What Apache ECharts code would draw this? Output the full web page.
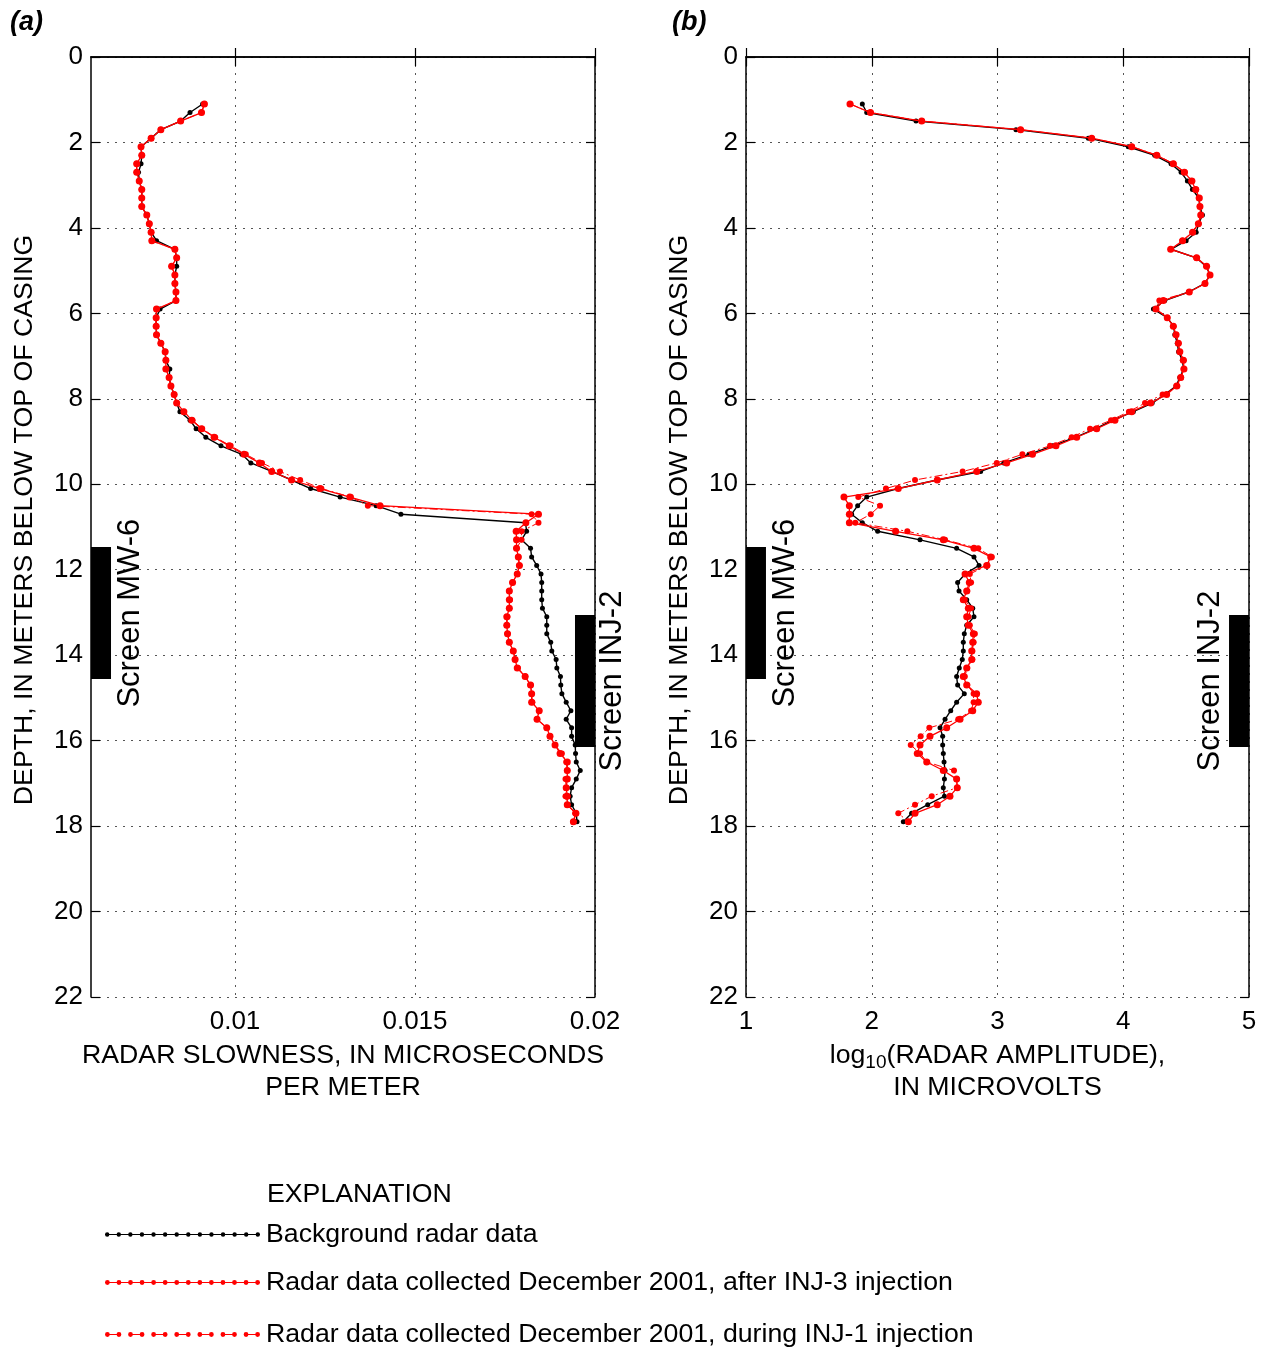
<!DOCTYPE html>
<html><head><meta charset="utf-8">
<script src="https://cdn.jsdelivr.net/npm/echarts@6/dist/echarts.min.js"></script>
<style>html,body{margin:0;padding:0;background:#fff}#c{width:1268px;height:1348px}</style>
</head><body><div id="c"></div>
<script>
// Depth of each measurement, meters below top of casing
const depth = [
 1.1,1.3,1.5,1.7,1.9,2.1,2.3,2.5,2.7,2.9,
 3.1,3.3,3.5,3.7,3.9,4.1,4.3,4.5,4.7,4.9,
 5.1,5.3,5.5,5.7,5.9,6.1,6.3,6.5,6.7,6.9,
 7.1,7.3,7.5,7.7,7.9,8.1,8.3,8.5,8.7,8.9,
 9.1,9.3,9.5,9.7,9.9,10.1,10.3,10.5,10.7,10.9,
 11.1,11.3,11.5,11.7,11.9,12.1,12.3,12.5,12.7,12.9,
 13.1,13.3,13.5,13.7,13.9,14.1,14.3,14.5,14.7,14.9,
 15.1,15.3,15.5,15.7,15.9,16.1,16.3,16.5,16.7,16.9,
 17.1,17.3,17.5,17.7,17.9];

// (a) radar slowness, microseconds per meter
const slowBackground = [
 0.0091,0.00875,0.00849,0.00794,0.00767,0.00739,0.00741,0.00739,0.00732,0.00734,
 0.00741,0.00741,0.00741,0.00755,0.00762,0.00767,0.00782,0.00833,0.00838,0.00838,
 0.00833,0.00833,0.00836,0.00836,0.00792,0.00781,0.00781,0.00782,0.00794,0.00806,
 0.00808,0.00819,0.00817,0.00822,0.00831,0.00838,0.00847,0.00875,0.00892,0.00919,
 0.00961,0.01019,0.01044,0.01102,0.01157,0.0121,0.01292,0.01392,0.01461,0.01807,
 0.0181,0.01796,0.01821,0.01824,0.01838,0.0185,0.01852,0.01852,0.01852,0.01854,
 0.01866,0.01866,0.01866,0.01877,0.0188,0.01892,0.01894,0.01904,0.01905,0.01908,
 0.0192,0.01933,0.0192,0.01935,0.01935,0.01945,0.01946,0.01948,0.01959,0.01948,
 0.01935,0.01931,0.01935,0.01948,0.0195];
const slowAfterINJ3 = [
 0.00915,0.00907,0.00849,0.00794,0.00767,0.00739,0.00741,0.00727,0.00727,0.00734,
 0.00741,0.00741,0.00741,0.00755,0.00762,0.00767,0.00769,0.00833,0.00838,0.00824,
 0.00833,0.00833,0.00836,0.00836,0.00782,0.00781,0.00781,0.00782,0.00794,0.00806,
 0.00808,0.00808,0.00817,0.00822,0.00831,0.00838,0.00858,0.0088,0.00907,0.00942,
 0.00984,0.01025,0.01068,0.01102,0.01157,0.01236,0.01319,0.01403,0.01843,0.01808,
 0.01781,0.01782,0.01782,0.01787,0.0179,0.01784,0.01771,0.01762,0.01762,0.01762,
 0.01755,0.01755,0.01757,0.01762,0.01773,0.01778,0.01784,0.01806,0.01821,0.01824,
 0.01824,0.01845,0.01839,0.01866,0.01875,0.01889,0.01903,0.01923,0.01923,0.01923,
 0.0192,0.01923,0.01923,0.01947,0.0194];
const slowDuringINJ1 = [
 0.00915,0.00907,0.00849,0.00794,0.00767,0.00739,0.00741,0.00727,0.00727,0.00734,
 0.00741,0.00741,0.00741,0.00755,0.00762,0.00767,0.00769,0.00833,0.00838,0.00824,
 0.00833,0.00833,0.00836,0.00836,0.00782,0.00781,0.00781,0.00782,0.00794,0.00806,
 0.00808,0.00808,0.00817,0.00822,0.00831,0.00838,0.00858,0.00882,0.00909,0.00945,
 0.00988,0.0103,0.01075,0.01125,0.01181,0.0124,0.01322,0.01369,0.01824,0.01843,
 0.01796,0.01796,0.01782,0.01787,0.0179,0.01784,0.01771,0.01762,0.01764,0.01762,
 0.01757,0.01755,0.01757,0.01762,0.01773,0.01778,0.01786,0.01806,0.01821,0.01824,
 0.01826,0.01845,0.01839,0.01866,0.01875,0.01889,0.01908,0.0192,0.01923,0.01918,
 0.0192,0.01918,0.01923,0.01945,0.0194];

// (b) log10 radar amplitude, microvolts
const ampBackground = [
 1.925,1.96,2.352,3.147,3.722,4.04,4.25,4.38,4.46,4.51,
 4.55,4.6,4.61,4.63,4.6,4.58,4.5,4.38,4.58,4.66,
 4.69,4.65,4.52,4.33,4.24,4.35,4.4,4.41,4.43,4.44,
 4.47,4.48,4.45,4.42,4.33,4.23,4.08,3.92,3.78,3.62,
 3.44,3.25,3.05,2.866,2.52,2.21,1.96,1.888,1.84,1.925,
 2.047,2.384,2.675,2.813,2.853,2.742,2.683,2.694,2.755,2.803,
 2.813,2.755,2.736,2.728,2.728,2.72,2.696,2.675,2.683,2.736,
 2.675,2.628,2.583,2.543,2.564,2.564,2.569,2.575,2.583,2.578,
 2.569,2.578,2.445,2.317,2.251];
const ampAfterINJ3 = [
 1.827,1.99,2.397,3.184,3.749,4.067,4.266,4.398,4.486,4.544,
 4.576,4.605,4.61,4.616,4.597,4.552,4.472,4.377,4.584,4.663,
 4.69,4.65,4.525,4.319,4.26,4.35,4.398,4.42,4.438,4.45,
 4.478,4.483,4.457,4.425,4.345,4.218,4.067,3.934,3.789,3.63,
 3.465,3.278,3.073,2.835,2.521,2.211,1.779,1.822,1.822,1.822,
 2.19,2.569,2.813,2.946,2.914,2.742,2.776,2.755,2.728,2.768,
 2.755,2.768,2.808,2.803,2.795,2.795,2.755,2.728,2.755,2.834,
 2.847,2.803,2.702,2.596,2.463,2.384,2.362,2.437,2.569,2.675,
 2.68,2.622,2.521,2.344,2.291];
const ampDuringINJ1 = [
 1.83,1.99,2.4,3.18,3.75,4.07,4.27,4.4,4.49,4.55,
 4.58,4.6,4.61,4.62,4.6,4.55,4.47,4.38,4.58,4.66,
 4.69,4.65,4.525,4.287,4.26,4.35,4.4,4.42,4.44,4.45,
 4.48,4.48,4.46,4.43,4.313,4.173,4.045,3.903,3.736,3.59,
 3.418,3.198,2.994,2.723,2.344,2.113,1.893,2.066,1.992,1.87,
 2.283,2.583,2.847,2.955,2.92,2.78,2.79,2.76,2.74,2.79,
 2.77,2.78,2.82,2.81,2.8,2.8,2.76,2.74,2.76,2.81,
 2.81,2.79,2.688,2.458,2.389,2.31,2.384,2.44,2.654,2.675,
 2.68,2.477,2.344,2.211,2.291];

// Well screen intervals (depth top, depth bottom)
const screenMW6 = [11.47, 14.56];
const screenINJ2 = [13.06, 16.15];

const seriesNames = [
 'Background radar data',
 'Radar data collected December 2001, after INJ-3 injection',
 'Radar data collected December 2001, during INJ-1 injection'];
const slowTicks = [0.01, 0.015, 0.02];
const xTitleA = 'RADAR SLOWNESS, IN MICROSECONDS\nPER METER';
const yTitle = 'DEPTH, IN METERS BELOW TOP OF CASING';

const FONT = "'Liberation Sans', Arial, Helvetica, sans-serif";
const TITLE_SIZE = 26.7;
const pairs = vals => vals.map((v, i) => [v, depth[i]]);

const chart = echarts.init(document.getElementById('c'), null, {renderer: 'canvas'});

const axisLineStyle = {show: true, lineStyle: {color: '#000', width: 1.5}};
const tickStyle = {show: true, inside: true, length: 9, lineStyle: {color: '#000', width: 1.2}};
const splitStyle = {show: true, lineStyle: {color: '#555', width: 1, type: [2, 6]}};
const labelStyle = {color: '#000', fontSize: 26, fontFamily: FONT};

function yAxes(grid) {
  const base = {type: 'value', gridIndex: grid, min: 0, max: 22, interval: 2, inverse: true};
  return [
    Object.assign({}, base, {position: 'left', axisLine: axisLineStyle, axisTick: tickStyle,
      splitLine: splitStyle, axisLabel: Object.assign({margin: 8}, labelStyle),
      name: yTitle, nameLocation: 'middle', nameGap: 53, nameRotate: 90,
      nameTextStyle: {color: '#000', fontSize: TITLE_SIZE, fontFamily: FONT, padding: [0, 0, 0, 14]}}),
    Object.assign({}, base, {position: 'right', axisLine: axisLineStyle, axisTick: tickStyle,
      splitLine: {show: false}, axisLabel: {show: false}})
  ];
}

const xA = {type: 'value', gridIndex: 0, min: 0.006, max: 0.02};
const xB = {type: 'value', gridIndex: 1, min: 1, max: 5, interval: 1};

// legend icons: a line with dots along it (all sub-paths clockwise so they fill as a union)
function circ(cx, cy, r) {
  return 'M' + (cx - r) + ',' + cy + ' A' + r + ',' + r + ' 0 1 1 ' + (cx + r) + ',' + cy +
    ' A' + r + ',' + r + ' 0 1 1 ' + (cx - r) + ',' + cy + ' Z ';
}
function iconPath(r, dashed) {
  let p = '';
  const n = 14, step = (155 - 2 * r) / (n - 1);
  if (!dashed) {
    p += 'M0,4.4 L155,4.4 L155,5.6 L0,5.6 Z ';
  } else {
    for (let k = 0; k < n - 1; k += 2) {
      const a = r + k * step, b = r + (k + 1) * step;
      p += 'M' + a + ',4.4 L' + b + ',4.4 L' + b + ',5.6 L' + a + ',5.6 Z ';
    }
  }
  for (let k = 0; k < n; k++) p += circ(r + k * step, 5, r);
  return 'path://' + p;
}
const legendIcons = [iconPath(2.2, false), iconPath(2.4, false), iconPath(2.4, true)];

const option = {
  animation: false,
  backgroundColor: '#fff',
  textStyle: {fontFamily: FONT},
  grid: [
    {left: 91, top: 57, width: 504, height: 940, show: false},
    {left: 746, top: 57, width: 503, height: 940, show: false}
  ],
  xAxis: [
    Object.assign({}, xA, {position: 'bottom', axisLine: axisLineStyle,
      axisTick: Object.assign({customValues: slowTicks}, tickStyle), splitLine: splitStyle,
      axisLabel: Object.assign({customValues: slowTicks, margin: 12}, labelStyle),
      name: xTitleA, nameLocation: 'middle', nameGap: 41,
      nameTextStyle: {color: '#000', fontSize: TITLE_SIZE, fontFamily: FONT, lineHeight: 32}}),
    Object.assign({}, xA, {position: 'top', axisLine: axisLineStyle,
      axisTick: Object.assign({customValues: slowTicks}, tickStyle), splitLine: {show: false},
      axisLabel: {show: false}}),
    Object.assign({}, xB, {position: 'bottom', axisLine: axisLineStyle, axisTick: tickStyle,
      splitLine: splitStyle, axisLabel: Object.assign({margin: 12}, labelStyle),
      name: 'log{sub|10}(RADAR AMPLITUDE),\nIN MICROVOLTS', nameLocation: 'middle', nameGap: 41,
      nameTextStyle: {color: '#000', fontSize: TITLE_SIZE, fontFamily: FONT, lineHeight: 32,
        rich: {sub: {fontSize: 19, fontFamily: FONT, color: '#000', verticalAlign: 'bottom', lineHeight: 32}}}}),
    Object.assign({}, xB, {position: 'top', axisLine: axisLineStyle, axisTick: tickStyle,
      splitLine: {show: false}, axisLabel: {show: false}})
  ],
  yAxis: yAxes(0).concat(yAxes(1)),
  legend: [0, 1, 2].map(i => ({
    data: [{name: seriesNames[i], icon: legendIcons[i]}],
    left: 100, top: [1216, 1264, 1316][i],
    orient: 'vertical', itemWidth: 157, itemHeight: i === 0 ? 4.4 : 4.8,
    selectedMode: false,
    itemStyle: {borderWidth: 0},
    textStyle: {color: '#000', fontSize: TITLE_SIZE, fontFamily: FONT}
  })),
  series: []
};

function bars(xmin, xmax, frac) {
  const w = (xmax - xmin) * frac;
  return {
    silent: true,
    itemStyle: {color: '#000', opacity: 1},
    label: {show: false},
    data: [
      [{xAxis: xmin, yAxis: screenMW6[0]}, {xAxis: xmin + w, yAxis: screenMW6[1]}],
      [{xAxis: xmax - w, yAxis: screenINJ2[0]}, {xAxis: xmax, yAxis: screenINJ2[1]}]
    ]
  };
}

function addPanel(xIdx, yIdx, bg, after, during, xmin, xmax) {
  option.series.push({
    name: seriesNames[0], type: 'line', xAxisIndex: xIdx, yAxisIndex: yIdx,
    data: pairs(bg), symbol: 'circle', symbolSize: 5, showSymbol: true,
    color: '#000', lineStyle: {color: '#000', width: 1.4}, itemStyle: {color: '#000'},
    z: 2, markArea: bars(xmin, xmax, 0.0397)
  });
  option.series.push({
    name: seriesNames[2], type: 'line', xAxisIndex: xIdx, yAxisIndex: yIdx,
    data: pairs(during), symbol: 'circle', symbolSize: 6, showSymbol: true,
    color: '#ff0000', lineStyle: {color: '#ff0000', width: 1, type: [8, 3, 2, 3]},
    itemStyle: {color: '#ff0000'}, z: 3
  });
  option.series.push({
    name: seriesNames[1], type: 'line', xAxisIndex: xIdx, yAxisIndex: yIdx,
    data: pairs(after), symbol: 'circle', symbolSize: 7, showSymbol: true,
    color: '#ff0000', lineStyle: {color: '#ff0000', width: 1.3}, itemStyle: {color: '#ff0000'}, z: 4
  });
}
addPanel(0, 0, slowBackground, slowAfterINJ3, slowDuringINJ1, 0.006, 0.02);
addPanel(2, 2, ampBackground, ampAfterINJ3, ampDuringINJ1, 1, 5);

chart.setOption(option);

// annotations positioned through the axes
function px(grid, x, y) { return chart.convertToPixel({gridIndex: grid}, [x, y]); }
const midMW = (screenMW6[0] + screenMW6[1]) / 2;
const midINJ = (screenINJ2[0] + screenINJ2[1]) / 2;
function screenText(text, p) {
  return {type: 'text', x: p[0], y: p[1], rotation: Math.PI / 2,
    style: {text: text, fill: '#000', font: '31px ' + FONT, align: 'center', verticalAlign: 'middle'}, z: 10};
}
const aMW = px(0, 0.006, midMW), aINJ = px(0, 0.02, midINJ);
const bMW = px(1, 1, midMW), bINJ = px(1, 5, midINJ);
chart.setOption({graphic: [
  screenText('Screen MW-6', [aMW[0] + 39, aMW[1]]),
  screenText('Screen INJ-2', [aINJ[0] + 17, aINJ[1]]),
  screenText('Screen MW-6', [bMW[0] + 39, bMW[1]]),
  screenText('Screen INJ-2', [bINJ[0] - 39, bINJ[1]]),
  {type: 'text', x: 10, y: 23, style: {text: '(a)', fill: '#000', font: 'italic bold 27px ' + FONT, verticalAlign: 'middle'}},
  {type: 'text', x: 672, y: 23, style: {text: '(b)', fill: '#000', font: 'italic bold 27px ' + FONT, verticalAlign: 'middle'}},
  {type: 'text', x: 267, y: 1195, style: {text: 'EXPLANATION', fill: '#000', font: TITLE_SIZE + 'px ' + FONT, verticalAlign: 'middle'}}
]});
</script></body></html>
